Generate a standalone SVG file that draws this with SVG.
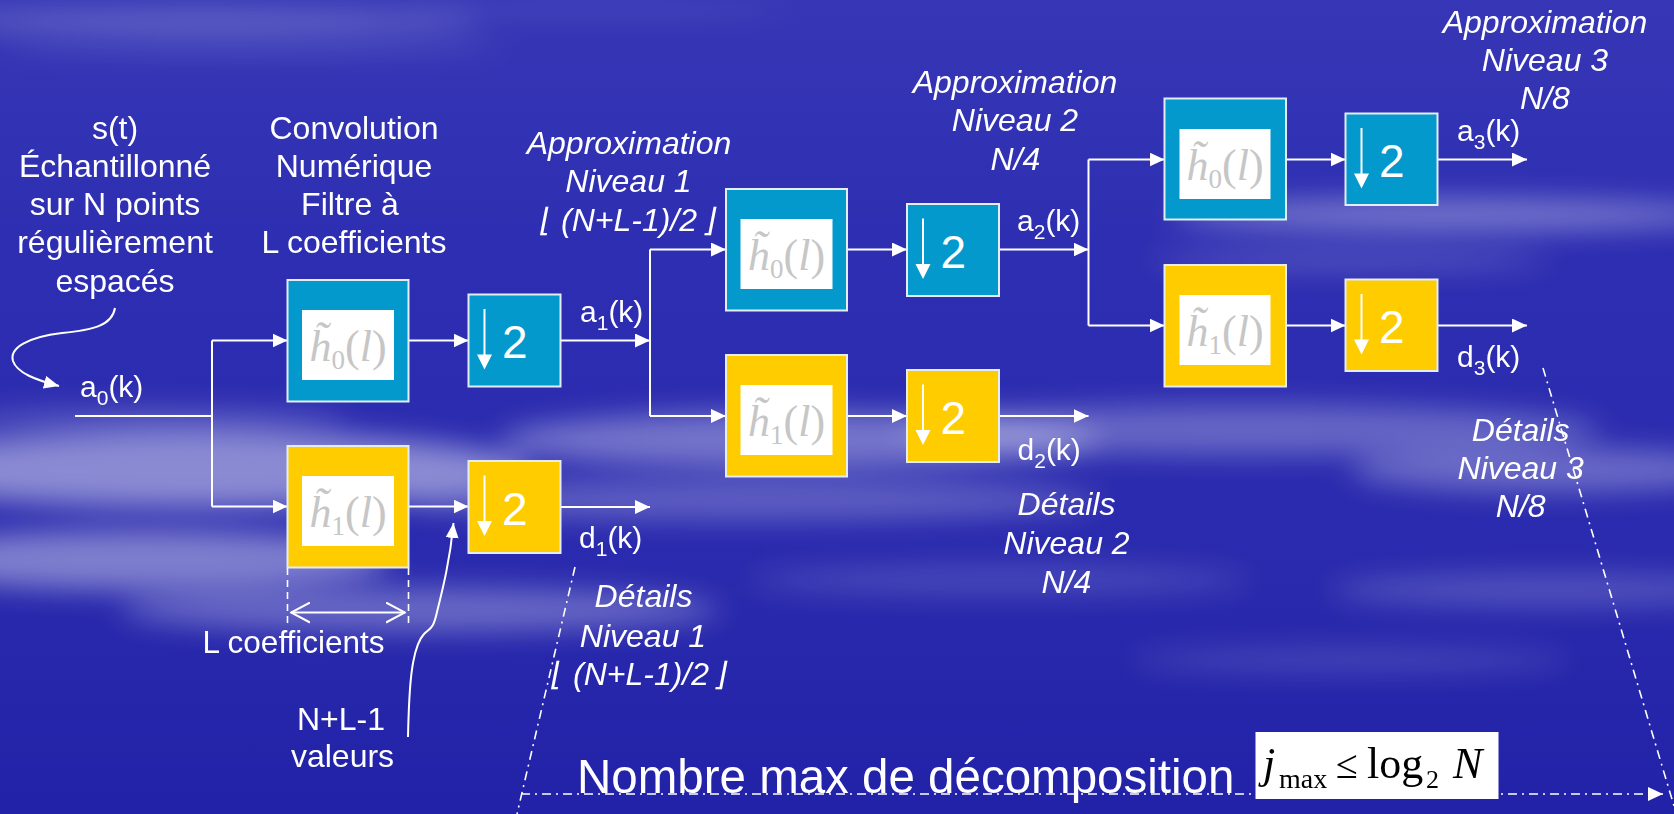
<svg xmlns="http://www.w3.org/2000/svg" width="1674" height="814" viewBox="0 0 1674 814">
<defs>
<linearGradient id="bg" x1="0" y1="0" x2="0" y2="1">
<stop offset="0" stop-color="#3636b6"/>
<stop offset="0.3" stop-color="#2e2eb2"/>
<stop offset="0.7" stop-color="#2a2aae"/>
<stop offset="1" stop-color="#2222a8"/>
</linearGradient>
<filter id="blur" x="-50%" y="-200%" width="200%" height="500%"><feGaussianBlur stdDeviation="14"/></filter>
<marker id="ah" markerWidth="15" markerHeight="14" refX="15" refY="7" orient="auto" markerUnits="userSpaceOnUse"><path d="M0,0 L15,7 L0,14 z" fill="#fff"/></marker>
<marker id="ahs" markerWidth="16" markerHeight="14" refX="15" refY="7" orient="auto" markerUnits="userSpaceOnUse"><path d="M0,0.5 L15,7 L0,13.5 z" fill="#fff"/></marker>
<marker id="open" markerWidth="20" markerHeight="22" refX="19" refY="11" orient="auto-start-reverse" markerUnits="userSpaceOnUse"><path d="M0,1 L19,11 L0,21" fill="none" stroke="#fff" stroke-width="2"/></marker>
<style>
.t{font-family:"Liberation Sans",Arial,sans-serif;font-size:32px;fill:#fff}
.it{font-style:italic}
.c{text-anchor:middle}
.lb{font-family:"Liberation Sans",Arial,sans-serif;font-size:30px;fill:#fff}
.sub{font-size:21px}
.fb{fill:#0399cc;stroke:#e4ecf4;stroke-width:2}
.fy{fill:#ffcc00;stroke:#e4ecf4;stroke-width:2}
.in{fill:#fff}
.h{font-family:"Liberation Serif","Times New Roman",serif;font-size:44px;fill:#c6c6c6}
.hs{font-size:27px}
.two{font-family:"Liberation Sans",Arial,sans-serif;font-size:46px;fill:#fff}
.w{stroke:#fff;stroke-width:2;fill:none}
.dd{stroke:#fff;stroke-width:1.6;fill:none;stroke-dasharray:9 5 2 5}
.ds{stroke:#fff;stroke-width:1.6;fill:none;stroke-dasharray:7 5}
.br{font-family:"DejaVu Sans",sans-serif;font-weight:200}
</style>
</defs>

<g id="background">
<rect width="1674" height="814" fill="url(#bg)"/>
<g fill="#ffffff" filter="url(#blur)">
<ellipse cx="200" cy="20" rx="280" ry="9" opacity="0.3"/>
<ellipse cx="250" cy="48" rx="260" ry="7" opacity="0.15"/>
<ellipse cx="200" cy="470" rx="330" ry="38" opacity="0.45"/>
<ellipse cx="140" cy="560" rx="250" ry="30" opacity="0.4"/>
<ellipse cx="420" cy="610" rx="300" ry="22" opacity="0.3"/>
<ellipse cx="150" cy="420" rx="200" ry="12" opacity="0.2"/>
<ellipse cx="800" cy="440" rx="300" ry="28" opacity="0.35"/>
<ellipse cx="750" cy="500" rx="350" ry="20" opacity="0.25"/>
<ellipse cx="1250" cy="430" rx="350" ry="25" opacity="0.28"/>
<ellipse cx="1450" cy="215" rx="280" ry="16" opacity="0.35"/>
<ellipse cx="1350" cy="260" rx="200" ry="10" opacity="0.2"/>
<ellipse cx="1550" cy="470" rx="200" ry="22" opacity="0.3"/>
<ellipse cx="1550" cy="590" rx="220" ry="16" opacity="0.2"/>
<ellipse cx="1350" cy="660" rx="220" ry="12" opacity="0.15"/>
<ellipse cx="1000" cy="580" rx="250" ry="15" opacity="0.15"/>
<ellipse cx="600" cy="10" rx="200" ry="6" opacity="0.12"/>
</g>
</g>

<g id="connectors">
<path class="w" d="M75,416 H212 M212,340.5 V506.5"/>
<path class="w" d="M212,340.5 H287.5" marker-end="url(#ah)"/>
<path class="w" d="M212,506.5 H287.5" marker-end="url(#ah)"/>
<path class="w" d="M408.5,340.5 H468.5" marker-end="url(#ah)"/>
<path class="w" d="M408.5,506.5 H468.5" marker-end="url(#ah)"/>
<path class="w" d="M560.5,340.5 H650" marker-end="url(#ah)"/>
<path class="w" d="M560.5,507 H650" marker-end="url(#ah)"/>
<path class="w" d="M650,249.5 V416"/>
<path class="w" d="M650,249.5 H726" marker-end="url(#ah)"/>
<path class="w" d="M650,416 H726" marker-end="url(#ah)"/>
<path class="w" d="M847,249.5 H907" marker-end="url(#ah)"/>
<path class="w" d="M847,416 H907" marker-end="url(#ah)"/>
<path class="w" d="M999,249.5 H1088.5" marker-end="url(#ah)"/>
<path class="w" d="M999,416 H1088.5" marker-end="url(#ah)"/>
<path class="w" d="M1088.5,159.5 V325.5"/>
<path class="w" d="M1088.5,159.5 H1164.5" marker-end="url(#ah)"/>
<path class="w" d="M1088.5,325.5 H1164.5" marker-end="url(#ah)"/>
<path class="w" d="M1286,159.5 H1345.5" marker-end="url(#ah)"/>
<path class="w" d="M1286,325.5 H1345.5" marker-end="url(#ah)"/>
<path class="w" d="M1437.5,159.5 H1527" marker-end="url(#ah)"/>
<path class="w" d="M1437.5,325.5 H1527" marker-end="url(#ah)"/>
<path class="w" d="M115,308 C112,326 92,330 62,333 C28,337 9,348 13,361 C17,373 36,380 59,386" marker-end="url(#ahs)"/>
<path class="w" d="M408,737 C409,690 411,648 424,634 C430,628 433,630 437,612 C443,588 450,560 453.5,523" marker-end="url(#ahs)"/>
<path class="ds" d="M287.5,568 V628 M408.5,568 V628"/>
<path class="w" d="M291,612.5 H405" marker-start="url(#open)" marker-end="url(#open)"/>
<path class="dd" d="M575,567 L517,814"/>
<path class="dd" d="M1543,368 L1674,806"/>
<path class="dd" d="M521,794 H1663" marker-end="url(#ah)"/>
</g>

<g id="f0-1" transform="translate(287.5,280)">
<rect class="fb" width="121" height="121.5"/><rect class="in" x="14.5" y="30" width="92" height="70"/>
<text class="h" x="22" y="81"><tspan font-style="italic">h̃</tspan><tspan class="hs" dy="8">0</tspan><tspan dy="-8">(</tspan><tspan font-style="italic">l</tspan>)</text>
</g>
<g id="f1-1" transform="translate(287.5,446)">
<rect class="fy" width="121" height="121.5"/><rect class="in" x="14.5" y="30" width="92" height="70"/>
<text class="h" x="22" y="81"><tspan font-style="italic">h̃</tspan><tspan class="hs" dy="8">1</tspan><tspan dy="-8">(</tspan><tspan font-style="italic">l</tspan>)</text>
</g>
<g id="d0-1" transform="translate(468.5,294.5)">
<rect class="fb" width="92" height="92"/><path class="w" d="M16,14.5 V62"/><path d="M8.5,60 H23.5 L16,75 z" fill="#fff"/><text class="two" x="33.5" y="63.5">2</text>
</g>
<g id="d1-1" transform="translate(468.5,461)">
<rect class="fy" width="92" height="92"/><path class="w" d="M16,14.5 V62"/><path d="M8.5,60 H23.5 L16,75 z" fill="#fff"/><text class="two" x="33.5" y="63.5">2</text>
</g>

<g id="f0-2" transform="translate(726,189)">
<rect class="fb" width="121" height="121.5"/><rect class="in" x="14.5" y="30" width="92" height="70"/>
<text class="h" x="22" y="81"><tspan font-style="italic">h̃</tspan><tspan class="hs" dy="8">0</tspan><tspan dy="-8">(</tspan><tspan font-style="italic">l</tspan>)</text>
</g>
<g id="f1-2" transform="translate(726,355)">
<rect class="fy" width="121" height="121.5"/><rect class="in" x="14.5" y="30" width="92" height="70"/>
<text class="h" x="22" y="81"><tspan font-style="italic">h̃</tspan><tspan class="hs" dy="8">1</tspan><tspan dy="-8">(</tspan><tspan font-style="italic">l</tspan>)</text>
</g>
<g id="d0-2" transform="translate(907,204)">
<rect class="fb" width="92" height="92"/><path class="w" d="M16,14.5 V62"/><path d="M8.5,60 H23.5 L16,75 z" fill="#fff"/><text class="two" x="33.5" y="63.5">2</text>
</g>
<g id="d1-2" transform="translate(907,370)">
<rect class="fy" width="92" height="92"/><path class="w" d="M16,14.5 V62"/><path d="M8.5,60 H23.5 L16,75 z" fill="#fff"/><text class="two" x="33.5" y="63.5">2</text>
</g>

<g id="f0-3" transform="translate(1164.5,98.5)">
<rect class="fb" width="121.5" height="121"/><rect class="in" x="15" y="30.5" width="91" height="70"/>
<text class="h" x="22" y="81.5"><tspan font-style="italic">h̃</tspan><tspan class="hs" dy="8">0</tspan><tspan dy="-8">(</tspan><tspan font-style="italic">l</tspan>)</text>
</g>
<g id="f1-3" transform="translate(1164.5,265)">
<rect class="fy" width="121.5" height="121.5"/><rect class="in" x="15" y="30" width="91" height="70"/>
<text class="h" x="22" y="81"><tspan font-style="italic">h̃</tspan><tspan class="hs" dy="8">1</tspan><tspan dy="-8">(</tspan><tspan font-style="italic">l</tspan>)</text>
</g>
<g id="d0-3" transform="translate(1345.5,113.5)">
<rect class="fb" width="92" height="91.5"/><path class="w" d="M16,14.5 V62"/><path d="M8.5,60 H23.5 L16,75 z" fill="#fff"/><text class="two" x="33.5" y="63.5">2</text>
</g>
<g id="d1-3" transform="translate(1345.5,279.5)">
<rect class="fy" width="92" height="91.5"/><path class="w" d="M16,14.5 V62"/><path d="M8.5,60 H23.5 L16,75 z" fill="#fff"/><text class="two" x="33.5" y="63.5">2</text>
</g>

<g id="labels">
<text class="t c"><tspan x="115" y="139">s(t)</tspan><tspan x="115" y="177">Échantillonné</tspan><tspan x="115" y="215">sur N points</tspan><tspan x="115" y="253">régulièrement</tspan><tspan x="115" y="292">espacés</tspan></text>
<text class="t c"><tspan x="354" y="139">Convolution</tspan><tspan x="354" y="177">Numérique</tspan><tspan x="350" y="215">Filtre à</tspan><tspan x="354" y="253">L coefficients</tspan></text>
<text class="lb" x="80" y="397">a<tspan class="sub" dy="8">0</tspan><tspan dy="-8">(k)</tspan></text>
<text class="lb" x="580" y="322">a<tspan class="sub" dy="8">1</tspan><tspan dy="-8">(k)</tspan></text>
<text class="lb" x="1017" y="231">a<tspan class="sub" dy="8">2</tspan><tspan dy="-8">(k)</tspan></text>
<text class="lb" x="1457" y="141">a<tspan class="sub" dy="8">3</tspan><tspan dy="-8">(k)</tspan></text>
<text class="lb" x="579" y="548">d<tspan class="sub" dy="8">1</tspan><tspan dy="-8">(k)</tspan></text>
<text class="lb" x="1017.5" y="460">d<tspan class="sub" dy="8">2</tspan><tspan dy="-8">(k)</tspan></text>
<text class="lb" x="1457" y="367">d<tspan class="sub" dy="8">3</tspan><tspan dy="-8">(k)</tspan></text>
<text class="t it c"><tspan x="629" y="154">Approximation</tspan><tspan x="628.5" y="192">Niveau 1</tspan></text>
<text class="t it" y="231"><tspan class="br" x="540">⌊</tspan><tspan x="561">(N+L-1)/2</tspan><tspan class="br" x="704">⌋</tspan></text>
<text class="t it c"><tspan x="1015" y="93">Approximation</tspan><tspan x="1015" y="131">Niveau 2</tspan><tspan x="1015.5" y="170">N/4</tspan></text>
<text class="t it c"><tspan x="1545" y="33">Approximation</tspan><tspan x="1545" y="71">Niveau 3</tspan><tspan x="1545" y="109">N/8</tspan></text>
<text class="t it c"><tspan x="643.5" y="607">Détails</tspan><tspan x="643" y="647">Niveau 1</tspan></text>
<text class="t it" y="685"><tspan class="br" x="551">⌊</tspan><tspan x="573">(N+L-1)/2</tspan><tspan class="br" x="715">⌋</tspan></text>
<text class="t it c"><tspan x="1066.5" y="515">Détails</tspan><tspan x="1066.5" y="554">Niveau 2</tspan><tspan x="1066.5" y="593">N/4</tspan></text>
<text class="t it c"><tspan x="1520.7" y="441">Détails</tspan><tspan x="1520.7" y="479">Niveau 3</tspan><tspan x="1520.7" y="517">N/8</tspan></text>
<text class="t" x="202.5" y="653" style="font-size:31.5px">L coefficients</text>
<text class="t c"><tspan x="341" y="730">N+L-1</tspan><tspan x="342.5" y="767">valeurs</tspan></text>
<text class="t" x="577" y="793" style="font-size:47.5px">Nombre max de décomposition</text>
</g>

<g id="formula">
<rect x="1255.5" y="732" width="243" height="67" fill="#fff"/>
<text font-family="'Liberation Serif','Times New Roman',serif" font-size="44" fill="#000"><tspan x="1263" y="778" font-style="italic">j</tspan><tspan x="1279" y="788" font-size="28">max</tspan><tspan x="1336" y="778" font-size="40">≤</tspan><tspan x="1367" y="778">log</tspan><tspan x="1426" y="788" font-size="26">2</tspan><tspan x="1453" y="778" font-style="italic">N</tspan></text>
</g>
</svg>
